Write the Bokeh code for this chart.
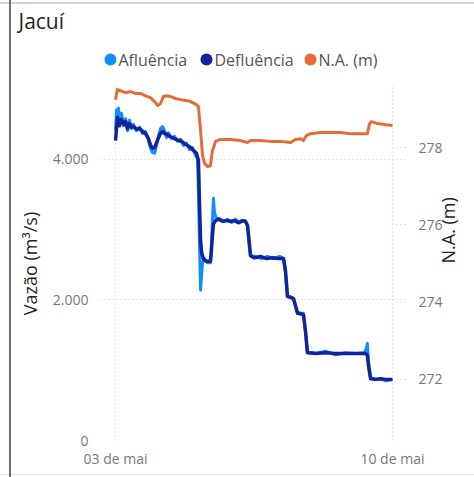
import math
import pandas as pd
from bokeh.plotting import figure
from bokeh.layouts import column
from bokeh.models import Range1d, LinearAxis, FixedTicker
from bokeh.core.properties import value
from bokeh.embed import file_html
from bokeh.resources import INLINE

# ---------------- data ----------------
chart_title = "Jacuí"
series_names = ["Afluência", "Defluência", "N.A. (m)"]
start_date = "2024-05-03"
x_tick_dates = ["2024-05-03", "2024-05-10"]
x_tick_labels = ["03 de mai", "10 de mai"]
flow_ticks = [0, 2000, 4000]
flow_tick_labels = ["0", "2.000", "4.000"]
level_ticks = [272, 274, 276, 278]
level_tick_labels = ["272", "274", "276", "278"]

# Afluência (m3/s), hours after 03 May 00:00
afl_hours = [0, 0.6, 1.8, 2.4, 3.6, 4.9, 6.1, 7.3, 8.5, 9.7, 10.9, 12.7, 14.6, 16.4, 18.2,
             20.0, 21.2, 22.4, 23.7, 24.9, 26.1, 27.3, 28.5, 29.7, 30.9, 32.1, 34.0, 35.8, 37.6, 39.4,
             41.2, 43.1, 44.9, 46.7, 48.5, 49.7, 50.3, 50.9, 51.6, 52.2, 52.8, 54.0, 55.8, 57.6, 58.2,
             58.8, 59.4, 60.0, 61.3, 63.1, 65.5, 67.9, 70.4, 72.8, 75.2, 77.6, 78.8, 80.1, 81.3, 81.9,
             84.9, 88.5, 92.2, 95.8, 99.5, 101.9, 103.1, 104.3, 106.1, 108.0, 109.2, 110.4, 112.2, 114.0, 115.2,
             116.4, 121.3, 127.4, 133.4, 139.5, 145.6, 151.0, 152.2, 152.8, 153.4, 154.7, 157.7, 160.7, 163.8, 168.0]
afl_values = [4410, 4700, 4730, 4530, 4660, 4480, 4580, 4410, 4560, 4440, 4500, 4410, 4460, 4370, 4400,
              4270, 4160, 4100, 4090, 4200, 4340, 4440, 4470, 4410, 4310, 4380, 4300, 4330, 4260, 4290,
              4200, 4230, 4140, 4170, 4060, 4010, 3560, 2850, 2140, 2350, 2530, 2590, 2530, 2530, 2780,
              3130, 3450, 3250, 3150, 3160, 3120, 3150, 3100, 3150, 3100, 3130, 3120, 3050, 2730, 2630,
              2620, 2590, 2620, 2590, 2620, 2590, 2390, 2060, 2040, 2010, 1910, 1820, 1790, 1810, 1540,
              1270, 1240, 1270, 1220, 1250, 1240, 1250, 1320, 1380, 1140, 900, 870, 880, 850, 870]

# Defluência (m3/s)
defl_hours = [0, 1.2, 2.4, 3.6, 4.9, 6.1, 7.3, 8.5, 9.7, 10.9, 12.7, 14.6, 16.4, 18.2, 20.0,
              21.2, 22.4, 23.7, 24.9, 26.1, 27.3, 28.5, 29.7, 30.9, 32.8, 34.6, 36.4, 38.2, 40.0, 41.8,
              43.7, 45.5, 47.3, 49.1, 50.3, 50.9, 51.6, 52.2, 53.4, 55.2, 57.6, 58.2, 58.8, 59.4, 60.7,
              62.5, 64.9, 67.3, 69.7, 72.2, 74.6, 77.0, 78.8, 80.1, 81.3, 81.9, 84.3, 87.9, 91.6, 95.2,
              98.9, 101.9, 103.1, 104.3, 106.1, 108.0, 109.2, 110.4, 112.2, 114.0, 115.2, 116.4, 121.3, 127.4, 133.4,
              139.5, 145.6, 151.6, 152.8, 153.4, 154.7, 157.7, 160.7, 163.8, 168.0]
defl_values = [4270, 4600, 4480, 4570, 4500, 4540, 4440, 4510, 4460, 4470, 4430, 4440, 4400, 4370, 4300,
               4210, 4160, 4170, 4240, 4310, 4370, 4400, 4370, 4360, 4330, 4310, 4290, 4270, 4260, 4230,
               4200, 4170, 4130, 4090, 3990, 3420, 2850, 2680, 2580, 2550, 2550, 2710, 2920, 3080, 3130,
               3150, 3120, 3130, 3120, 3130, 3100, 3130, 3120, 3060, 2780, 2630, 2600, 2620, 2590, 2600,
               2590, 2590, 2420, 2050, 2040, 2020, 1920, 1810, 1810, 1790, 1570, 1250, 1240, 1250, 1240,
               1240, 1240, 1240, 1210, 1070, 880, 870, 880, 870, 870]

# N.A. (m)
na_hours = [0, 1.2, 3.0, 6.1, 9.1, 12.1, 15.2, 18.2, 21.2, 23.7, 25.5, 27.3, 29.1, 30.9, 33.4,
            36.4, 39.4, 42.5, 45.5, 49.1, 50.3, 51.6, 52.8, 54.0, 55.8, 57.6, 58.8, 60.7, 63.7, 69.7,
            75.8, 80.1, 81.9, 87.9, 94.0, 100.1, 106.1, 109.2, 112.2, 114.0, 115.8, 118.3, 124.3, 130.4, 136.5,
            142.5, 148.6, 152.8, 154.1, 155.3, 158.9, 163.8, 168.0]
na_values = [279.24, 279.50, 279.47, 279.42, 279.45, 279.40, 279.40, 279.34, 279.29, 279.19, 279.09, 279.14, 279.32, 279.34, 279.32,
             279.27, 279.24, 279.22, 279.19, 279.11, 279.06, 278.44, 277.79, 277.59, 277.51, 277.53, 277.92, 278.16, 278.21, 278.21,
             278.18, 278.13, 278.18, 278.18, 278.16, 278.16, 278.13, 278.21, 278.23, 278.18, 278.31, 278.36, 278.39, 278.39, 278.39,
             278.36, 278.36, 278.36, 278.62, 278.67, 278.62, 278.59, 278.57]

# ---------------- style / layout ----------------
base = pd.Timestamp(start_date)


def to_dt(hours):
    return [base + pd.Timedelta(hours=h) for h in hours]


def ms(ts):
    return pd.Timestamp(ts).value // 10**6


FONT = "Open Sans"
C_AFL = "#118DFF"
C_DEF = "#12239E"
C_NA = "#E66C37"
series_colors = [C_AFL, C_DEF, C_NA]
GRID = "#c8c8c8"
TICK_TXT = "#777777"
DARK_TXT = "#252423"
LEG_TXT = "#555555"

W = 474
TOP_H = 86
MAIN_H = 391
BL, BR = 100, 69          # left / right borders of the plot frame
HDR_TOP = 34              # header: title band height

# ---- header strip: title + legend; frame spans the same x as the chart frame ----
hdr = figure(width=W, height=TOP_H, x_range=Range1d(BL, W - BR), y_range=Range1d(TOP_H, HDR_TOP),
             output_backend="svg", toolbar_location=None,
             x_axis_location=None, y_axis_location=None,
             min_border_left=BL, min_border_right=BR, min_border_top=HDR_TOP, min_border_bottom=0)
hdr.grid.visible = False
hdr.outline_line_color = None
hdr.background_fill_alpha = 0
hdr.border_fill_alpha = 0
hdr.title.text = chart_title
hdr.title.align = "left"
hdr.title.offset = -82
hdr.title.standoff = 0
hdr.title.text_font = FONT
hdr.title.text_font_size = "21px"
hdr.title.text_font_style = "normal"
hdr.title.text_color = DARK_TXT

legend_dot_x = [110, 206, 310]
legend_txt_x = [118, 214, 318]
legend_y = 59
hdr.scatter(x=legend_dot_x, y=[legend_y] * 3, size=12, marker="circle",
            fill_color=series_colors, line_color=None)
hdr.text(x=legend_txt_x, y=[legend_y] * 3, text=series_names, text_font=value(FONT),
         text_font_size="16px", text_color=LEG_TXT, text_baseline="middle", text_align="left")

# ---- main chart ----
x0 = base - pd.Timedelta(hours=9.1)
x1 = base + pd.Timedelta(hours=175.9)

p = figure(width=W, height=MAIN_H, x_axis_type="datetime", output_backend="svg",
           toolbar_location=None, title=None,
           x_range=Range1d(x0, x1), y_range=Range1d(0, 5039),
           min_border_left=BL, min_border_right=BR, min_border_top=0, min_border_bottom=37)
p.outline_line_color = None
p.background_fill_color = "white"
p.border_fill_alpha = 0
p.extra_y_ranges = {"na": Range1d(270.42, 279.58)}

# x axis
xt = [ms(d) for d in x_tick_dates]
p.xaxis.ticker = FixedTicker(ticks=xt)
p.xaxis.major_label_overrides = {t: l for t, l in zip(xt, x_tick_labels)}
p.xaxis.axis_line_color = None
p.xaxis.major_tick_line_color = None
p.xaxis.major_tick_out = 0
p.xaxis.minor_tick_line_color = None
p.xaxis.major_label_standoff = 8
p.xaxis.major_label_text_font = FONT
p.xaxis.major_label_text_font_size = "14px"
p.xaxis.major_label_text_color = TICK_TXT

# left axis
p.yaxis.ticker = FixedTicker(ticks=flow_ticks)
p.yaxis.major_label_overrides = {t: l for t, l in zip(flow_ticks, flow_tick_labels)}
p.yaxis.axis_line_color = None
p.yaxis.major_tick_line_color = None
p.yaxis.major_tick_out = 0
p.yaxis.minor_tick_line_color = None
p.yaxis.major_label_standoff = 12
p.yaxis.major_label_text_font = FONT
p.yaxis.major_label_text_font_size = "14px"
p.yaxis.major_label_text_color = TICK_TXT
p.yaxis.axis_label = "Vazão (m³/s)"
p.yaxis.axis_label_standoff = 8
p.yaxis.axis_label_text_font = FONT
p.yaxis.axis_label_text_font_size = "18px"
p.yaxis.axis_label_text_font_style = "normal"
p.yaxis.axis_label_text_color = DARK_TXT

# right axis
ra = LinearAxis(y_range_name="na", ticker=FixedTicker(ticks=level_ticks))
ra.major_label_overrides = {t: l for t, l in zip(level_ticks, level_tick_labels)}
ra.axis_line_color = None
ra.minor_tick_line_color = None
ra.major_tick_out = 0
ra.major_tick_in = 9
ra.major_tick_line_color = GRID
ra.major_tick_line_width = 1.2
ra.major_tick_line_dash = "1 3"
ra.major_label_standoff = 13
ra.major_label_text_font = FONT
ra.major_label_text_font_size = "14px"
ra.major_label_text_color = TICK_TXT
ra.axis_label = "N.A. (m)"
ra.axis_label_standoff = 2
if "axis_label_orientation" in ra.properties():
    ra.axis_label_orientation = math.pi / 2
ra.axis_label_text_font = FONT
ra.axis_label_text_font_size = "18px"
ra.axis_label_text_font_style = "normal"
ra.axis_label_text_color = DARK_TXT
p.add_layout(ra, "right")

# grids
for g in (p.xgrid, p.ygrid):
    g.grid_line_color = GRID
    g.grid_line_dash = "1 3"
    g.grid_line_width = 1.2

# lines
p.line(to_dt(afl_hours), afl_values, line_color=C_AFL, line_width=3, line_join="round")
p.line(to_dt(defl_hours), defl_values, line_color=C_DEF, line_width=3.5, line_join="round")
p.line(to_dt(na_hours), na_values, line_color=C_NA, line_width=3, line_join="round",
       y_range_name="na")

layout = column(hdr, p, spacing=0, styles={
    "background": ("linear-gradient(to right, transparent 9px, #6e6e6e 9px, #6e6e6e 11px, transparent 11px), "
                   "linear-gradient(to bottom, transparent 2px, #d4d4d4 2px, #d4d4d4 4px, transparent 4px), "
                   "linear-gradient(to top, transparent 2px, #e2e2e2 2px, #e2e2e2 3px, transparent 3px), "
                   "white")
})

open("out.html", "w").write(file_html(layout, INLINE))
